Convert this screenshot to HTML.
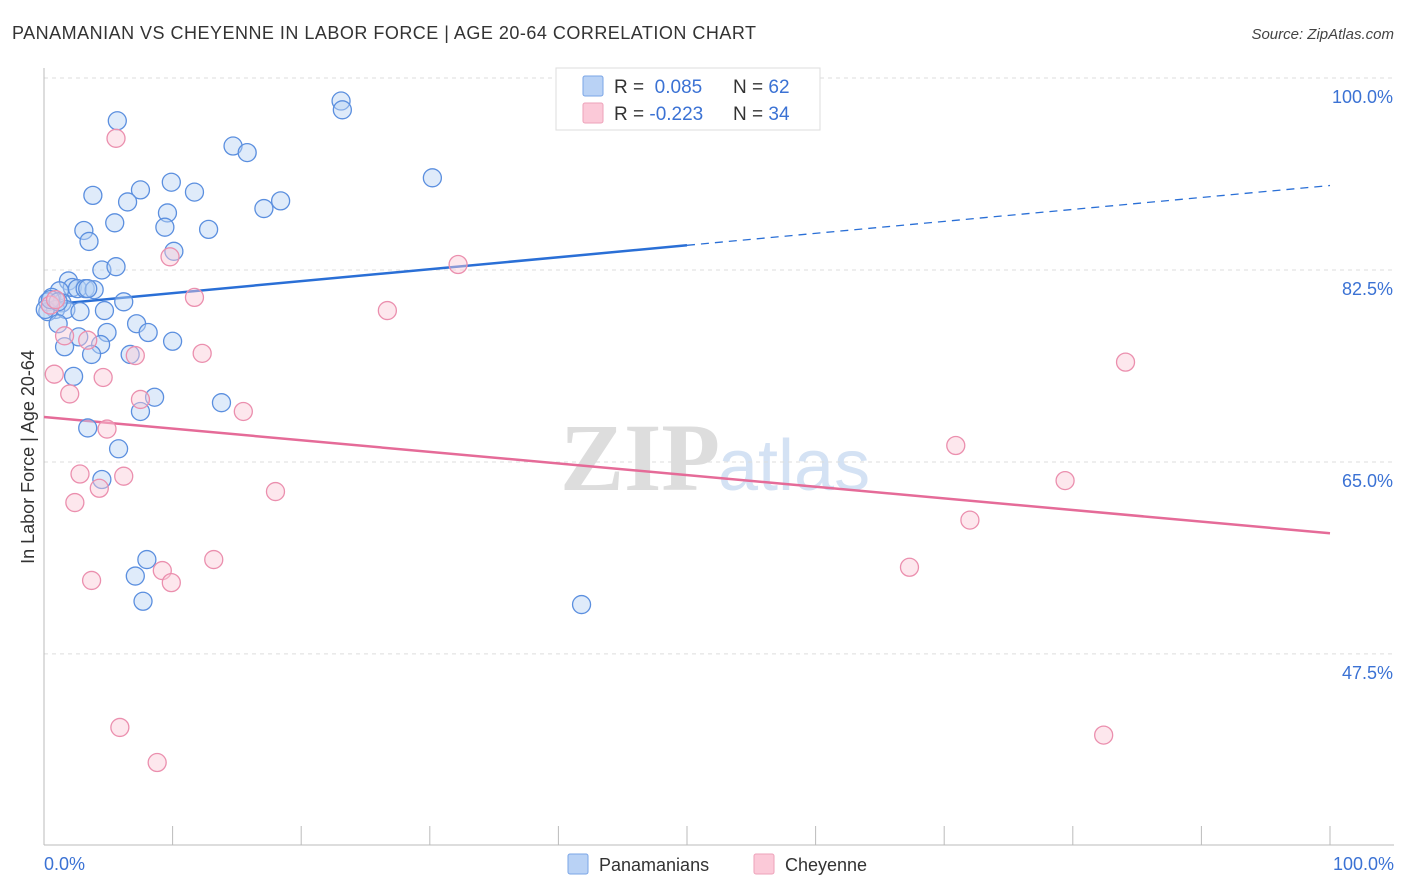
<!DOCTYPE html>
<html><head><meta charset="utf-8"><style>
body{margin:0;background:#fff;font-family:"Liberation Sans",sans-serif}
svg{display:block}
</style></head><body>
<svg id="chart" width="1406" height="892">
<text x="12" y="39" font-size="18" fill="#333" textLength="744" lengthAdjust="spacing">PANAMANIAN VS CHEYENNE IN LABOR FORCE | AGE 20-64 CORRELATION CHART</text>
<text x="1394" y="39" font-size="15" fill="#444" font-style="italic" text-anchor="end">Source: ZipAtlas.com</text>
<text x="720" y="490" font-size="96" font-family="Liberation Serif,serif" fill="#ddd" text-anchor="end" font-weight="bold">ZIP</text>
<text x="718" y="490" font-size="72" fill="#d4e2f4">atlas</text>
<g id="grid"></g><g id="ticks"></g><g id="trends"></g><g id="points"></g>
<text transform="translate(34,457) rotate(-90)" font-size="18" fill="#333" text-anchor="middle">In Labor Force | Age 20-64</text>
<text x="44" y="870" font-size="18" fill="#3b72d4">0.0%</text>
<text x="1394" y="870" font-size="18" fill="#3b72d4" text-anchor="end">100.0%</text>
<g>
<rect x="556" y="68" width="264" height="62" fill="#fff" stroke="#ddd"/>
<rect x="583" y="76" width="20" height="20" fill="#b9d2f5" stroke="#7aa5e6" rx="2"/>
<rect x="583" y="103" width="20" height="20" fill="#fbc9d8" stroke="#eea2ba" rx="2"/>
<text x="614" y="93" font-size="19" fill="#333">R = <tspan fill="#3b72d4">&#160;0.085</tspan><tspan x="733">N = </tspan><tspan fill="#3b72d4">62</tspan></text>
<text x="614" y="120" font-size="19" fill="#333">R = <tspan fill="#3b72d4">-0.223</tspan><tspan x="733">N = </tspan><tspan fill="#3b72d4">34</tspan></text>
</g>
<g>
<rect x="568" y="854" width="20" height="20" fill="#b9d2f5" stroke="#7aa5e6" rx="2"/>
<text x="599" y="871" font-size="18" fill="#333">Panamanians</text>
<rect x="754" y="854" width="20" height="20" fill="#fbc9d8" stroke="#eea2ba" rx="2"/>
<text x="785" y="871" font-size="18" fill="#333">Cheyenne</text>
</g>
</svg>
<script>
const yTicks=[100,82.5,65,47.5];
const xTicks=[0,10,20,30,40,50,60,70,80,90,100];
const blueX=[5.7,23.1,23.2,14.7,15.8,30.2,3.8,7.5,9.9,11.7,6.5,17.1,18.4,9.6,5.5,9.4,3.1,12.8,3.5,10.1,4.5,5.6,1.9,2.2,2.6,3.2,3.9,1.2,0.6,0.3,1.4,0.9,0.3,1.7,2.8,6.2,4.7,1.1,7.2,4.9,8.1,2.7,10.0,1.6,4.4,3.7,6.7,2.3,8.6,13.8,7.5,3.4,5.8,4.5,8.0,7.1,7.7,41.8,0.1,0.5,1.1,3.4];
const blueY=[96.1,97.9,97.1,93.8,93.2,90.9,89.3,89.8,90.5,89.6,88.7,88.1,88.8,87.7,86.8,86.4,86.1,86.2,85.1,84.2,82.5,82.8,81.5,80.9,80.8,80.8,80.7,80.6,80.0,79.6,79.5,78.9,78.7,78.9,78.7,79.6,78.8,77.6,77.6,76.8,76.8,76.4,76.0,75.5,75.7,74.8,74.8,72.8,70.9,70.4,69.6,68.1,66.2,63.4,56.1,54.6,52.3,52.0,78.9,79.8,79.6,80.8];
const pinkX=[5.6,32.2,9.8,11.7,26.7,84.1,12.3,7.1,0.8,4.6,2.0,7.5,15.5,4.9,70.9,2.8,6.2,4.3,18.0,79.4,2.4,72.0,13.2,67.3,9.2,3.7,9.9,5.9,8.8,82.4,3.4,1.6,0.5,0.9];
const pinkY=[94.5,83.0,83.7,80.0,78.8,74.1,74.9,74.7,73.0,72.7,71.2,70.7,69.6,68.0,66.5,63.9,63.7,62.6,62.3,63.3,61.3,59.7,56.1,55.4,55.1,54.2,54.0,40.8,37.6,40.1,76.1,76.5,79.3,79.8];
const blueTrend=[79.3,90.2];
const pinkTrend=[69.1,58.5];
const X=v=>44+v*12.86, Y=v=>78+(100-v)*10.97;
const NS='http://www.w3.org/2000/svg';
function mk(tag,attrs,parent){const e=document.createElementNS(NS,tag);for(const k in attrs)e.setAttribute(k,attrs[k]);document.getElementById(parent).appendChild(e);return e;}
yTicks.forEach(t=>{
 const l=mk('line',{x1:44,x2:1394,y1:Y(t),y2:Y(t),stroke:'#ddd','stroke-dasharray':'4,4'},'grid');
 
 
 const tx=mk('text',{x:1393,y:Y(t)+25,'font-size':18,fill:'#3b72d4','text-anchor':'end'},'grid');
 tx.textContent=t.toFixed(1)+'%';
 
 
});
const ax=mk('line',{x1:44,x2:44,y1:68,y2:845,stroke:'#bbb'},'ticks');


const bx=mk('line',{x1:44,x2:1394,y1:845,y2:845,stroke:'#bbb'},'ticks');


xTicks.forEach(t=>{
 const l=mk('line',{x1:X(t),x2:X(t),y1:826,y2:845,stroke:'#bbb'},'ticks');
 
 
});
function pts(xs,ys,fill,stroke,name){xs.forEach((x,i)=>{
 const c=mk('circle',{cx:X(x),cy:Y(ys[i]),r:9,fill:fill,'fill-opacity':0.45,stroke:stroke,'stroke-width':1.3},'points');
 
 
});}
pts(blueX,blueY,'#b9d2f5','#5b8fdf','panamanian-point');
pts(pinkX,pinkY,'#fbc9d8','#eb8fae','cheyenne-point');
const bm=blueTrend[0]+(blueTrend[1]-blueTrend[0])*0.5;
const b1=mk('line',{x1:X(0),y1:Y(blueTrend[0]),x2:X(50),y2:Y(bm),stroke:'#2a6fd6','stroke-width':2.5},'trends');


const b2=mk('line',{x1:X(50),y1:Y(bm),x2:X(100),y2:Y(blueTrend[1]),stroke:'#2a6fd6','stroke-width':1.3,'stroke-dasharray':'8,6'},'trends');


const p1=mk('line',{x1:X(0),y1:Y(pinkTrend[0]),x2:X(100),y2:Y(pinkTrend[1]),stroke:'#e56b98','stroke-width':2.5},'trends');


</script>
</body></html>
